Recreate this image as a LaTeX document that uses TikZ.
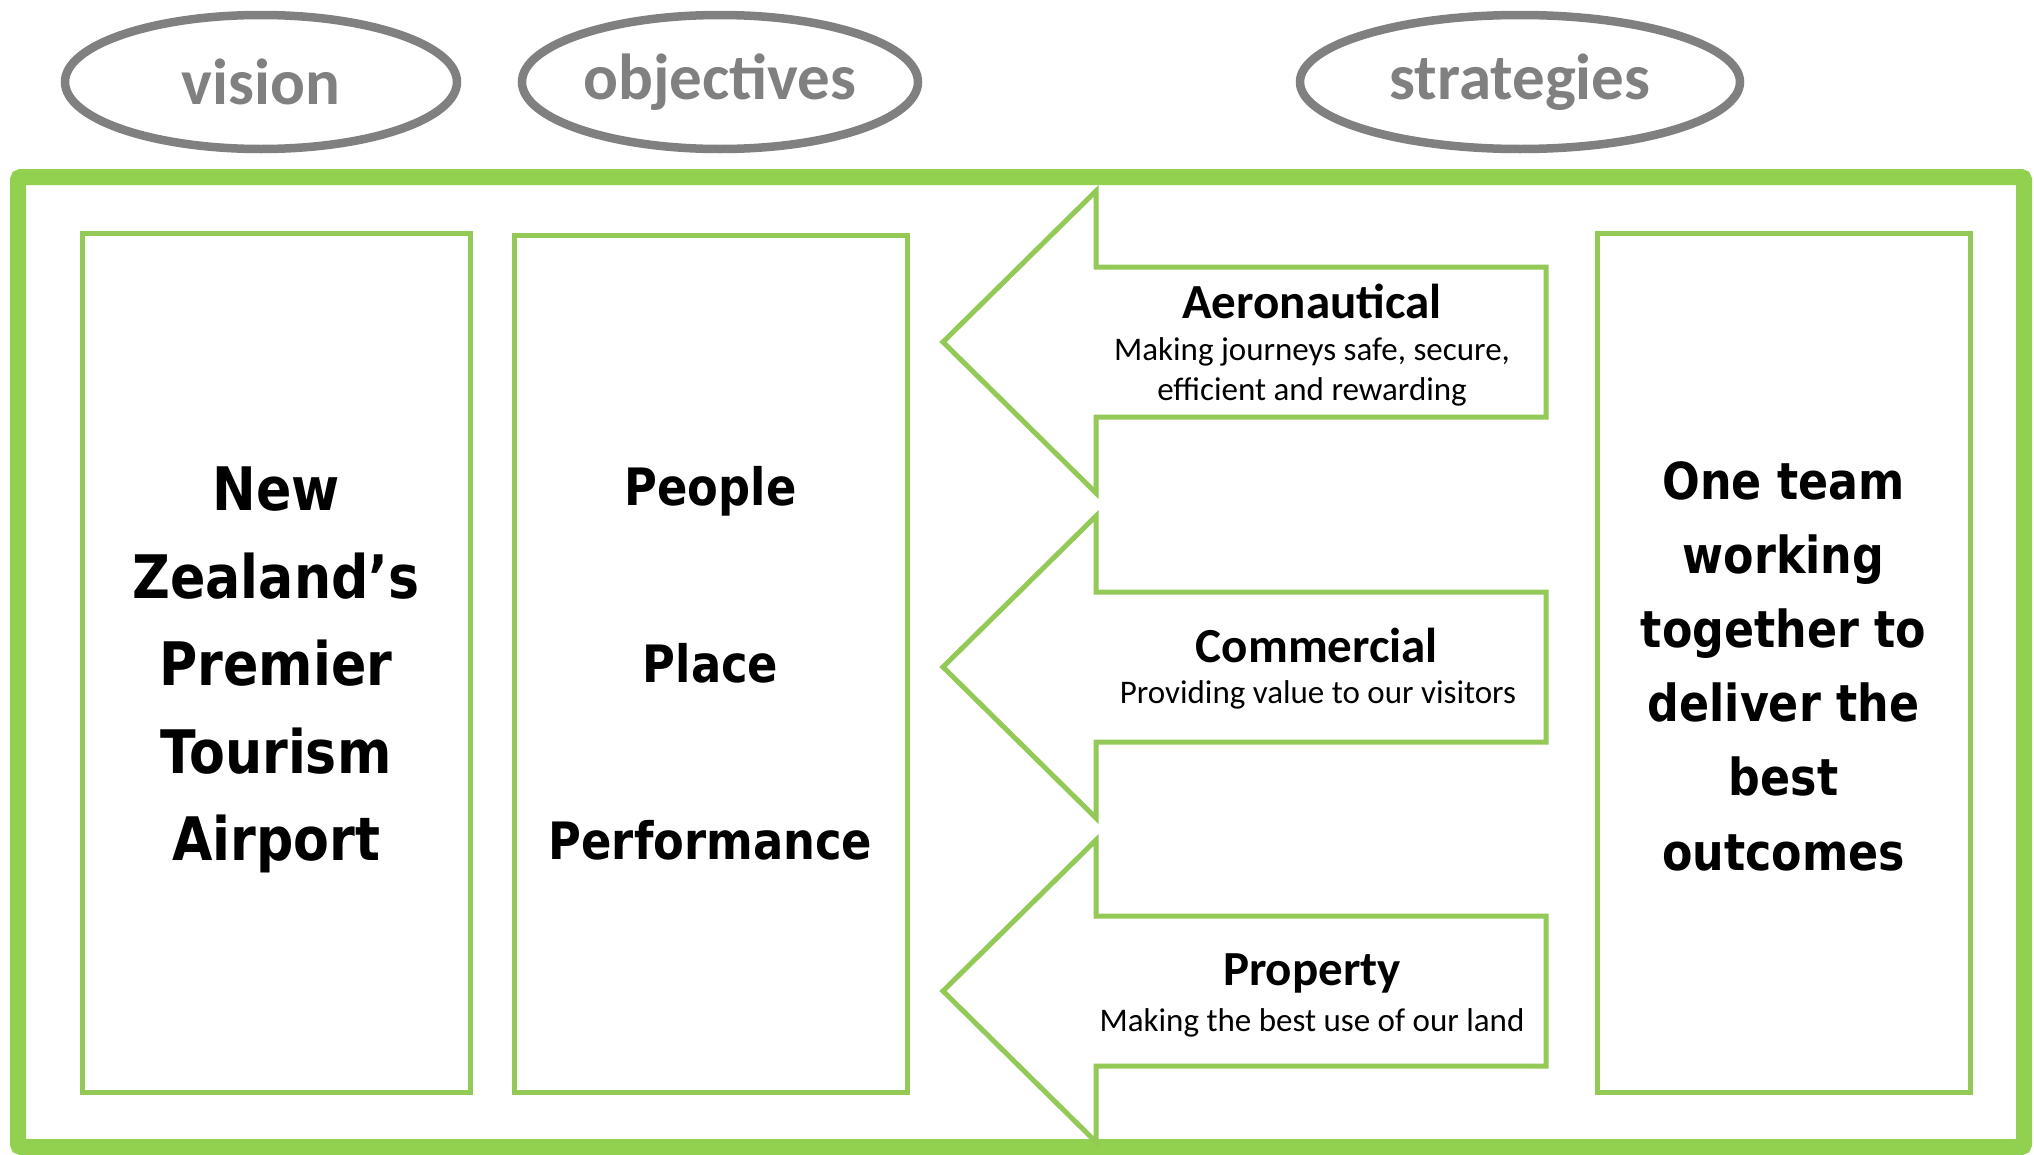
\documentclass[tikz,border=0pt]{standalone}
\usepackage{fontspec}
\setmainfont{Carlito}
\newfontfamily\tah[FakeStretch=0.87]{DejaVu Sans}
\usetikzlibrary{shapes.geometric}
\definecolor{frgreen}{HTML}{92D050}
\definecolor{bxgreen}{HTML}{92C957}
\definecolor{elgray}{HTML}{808080}
\begin{document}
\begin{tikzpicture}[x=1pt,y=-1pt,
  oval/.style={ellipse, draw=elgray, line width=8.5pt, minimum width=#1, minimum height=134pt, inner sep=0pt, text=elgray, font=\fontsize{65}{65}\selectfont\bfseries},
  colbox/.style={draw=bxgreen, line width=5pt, align=center, inner sep=0pt},
  arrowline/.style={draw=bxgreen, line width=5pt, line join=miter},
  titletext/.style={font=\fontsize{49}{49}\selectfont\bfseries},
  subtext/.style={font=\fontsize{33}{40}\selectfont, align=center},
]
\useasboundingbox (0,0) rectangle (2034,1154);
\fill[white] (0,0) rectangle (2034,1154);
% outer frame
\draw[draw=frgreen, line width=16pt, rounded corners=3pt] (18,177) rectangle (2024,1147);
% header ovals
\node[oval=392pt] (ovision) at (261,82) {vision};
\node[oval=396pt] (oobj) at (720,82) {objectives};
\node[oval=440pt] (ostrat) at (1520,82) {strategies};
% column boxes
\node[colbox, minimum width=388pt, minimum height=859pt] (vis) at (276,662.5) {};
\node[align=center, font=\tah\bfseries\fontsize{60}{87.6}\selectfont] (vistext) at (276,670) {New\\Zealand’s\\Premier\\Tourism\\Airport};
\node[colbox, minimum width=393pt, minimum height=857pt, font=\tah\bfseries\fontsize{51.5}{177}\selectfont] (obj) at (710.5,663.5) {People\\Place\\Performance};
\node[colbox, minimum width=373pt, minimum height=859pt] (team) at (1783.5,662.5) {};
\node[align=center, font=\tah\bfseries\fontsize{51}{74.2}\selectfont] (teamtext) at (1783.5,666) {One team\\working\\together to\\deliver the\\best\\outcomes};
% arrows
\foreach \c in {342,667,991}{
  \draw[arrowline] (943,\c) -- (1096,\c-151) -- (1096,\c-75) -- (1546,\c-75) -- (1546,\c+75) -- (1096,\c+75) -- (1096,\c+151) -- cycle;
}
\node[titletext] (aero) at (1312,301) {Aeronautical};
\node[subtext] (aerosub) at (1312,372) {Making journeys safe, secure,\\efficient and rewarding};
\node[titletext] (comm) at (1317,645) {Commercial};
\node[subtext] (commsub) at (1318,695) {Providing value to our visitors};
\node[titletext] (prop) at (1312,973) {Property};
\node[subtext] (propsub) at (1312,1023) {Making the best use of our land};
\end{tikzpicture}
\end{document}
